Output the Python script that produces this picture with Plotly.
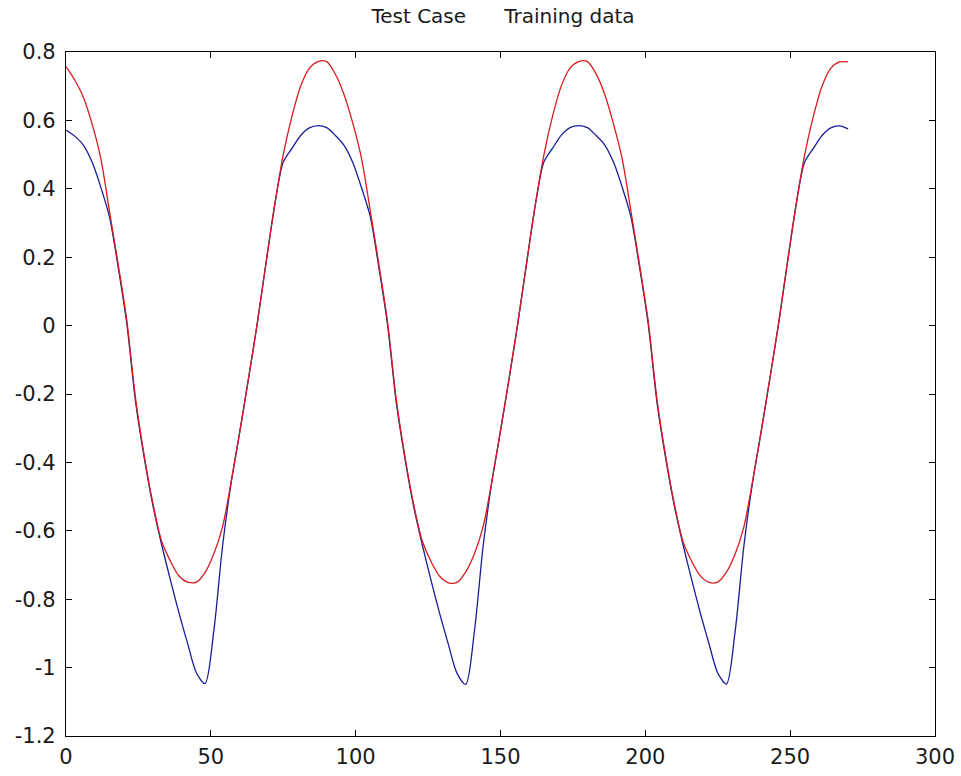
import plotly.graph_objects as go

# x positions (sample index)
x_vals = list(range(0, 271, 3))

# Blue series
blue_vals = [
    0.572, 0.554, 0.528, 0.478, 0.405, 0.318, 0.172, 0.005, -0.222, -0.386,
    -0.526, -0.640, -0.742, -0.840, -0.930, -1.015, -1.047, -0.895, -0.648, -0.460,
    -0.310, -0.155, 0.005, 0.180, 0.350, 0.478, 0.518, 0.556, 0.578, 0.585,
    0.579, 0.556, 0.527, 0.477, 0.404, 0.320, 0.170, 0.003, -0.224, -0.388,
    -0.528, -0.641, -0.744, -0.842, -0.932, -1.017, -1.049, -0.893, -0.645, -0.458,
    -0.308, -0.153, 0.008, 0.182, 0.352, 0.479, 0.519, 0.557, 0.579, 0.585,
    0.579, 0.556, 0.528, 0.478, 0.405, 0.319, 0.171, 0.004, -0.223, -0.387,
    -0.527, -0.640, -0.743, -0.841, -0.931, -1.016, -1.048, -0.894, -0.646, -0.459,
    -0.309, -0.154, 0.006, 0.181, 0.351, 0.478, 0.518, 0.556, 0.578, 0.584,
    0.575,
]

# Red series
red_vals = [
    0.757, 0.718, 0.668, 0.590, 0.490, 0.335, 0.180, 0.015, -0.212, -0.380,
    -0.520, -0.630, -0.688, -0.732, -0.750, -0.750, -0.722, -0.668, -0.590, -0.458,
    -0.310, -0.155, 0.005, 0.180, 0.350, 0.500, 0.612, 0.700, 0.752, 0.772,
    0.772, 0.735, 0.675, 0.592, 0.490, 0.338, 0.180, 0.012, -0.215, -0.382,
    -0.522, -0.630, -0.690, -0.733, -0.752, -0.751, -0.720, -0.667, -0.588, -0.456,
    -0.308, -0.153, 0.008, 0.182, 0.352, 0.500, 0.613, 0.701, 0.753, 0.772,
    0.772, 0.736, 0.676, 0.590, 0.488, 0.336, 0.178, 0.012, -0.214, -0.381,
    -0.521, -0.631, -0.689, -0.732, -0.751, -0.750, -0.721, -0.668, -0.589, -0.457,
    -0.309, -0.154, 0.006, 0.181, 0.351, 0.499, 0.612, 0.700, 0.752, 0.771,
    0.771,
]

x_tickvals = [0, 50, 100, 150, 200, 250, 300]
x_ticktext = ["0", "50", "100", "150", "200", "250", "300"]
y_tickvals = [-1.2, -1.0, -0.8, -0.6, -0.4, -0.2, 0.0, 0.2, 0.4, 0.6, 0.8]
y_ticktext = ["-1.2", "-1", "-0.8", "-0.6", "-0.4", "-0.2", "0", "0.2", "0.4", "0.6", "0.8"]

title_text = "Test Case" + "\u00a0" * 6 + "Training data"

fig = go.Figure()
fig.add_trace(go.Scatter(x=x_vals, y=blue_vals, mode="lines",
                         line=dict(color="#1c1c9a", width=1.3, shape="spline", smoothing=0.8),
                         showlegend=False))
fig.add_trace(go.Scatter(x=x_vals, y=red_vals, mode="lines",
                         line=dict(color="#d81c1c", width=1.3, shape="spline", smoothing=0.8),
                         showlegend=False))

axis_font = dict(family="DejaVu Sans", size=21, color="#1a1a1a")

fig.update_layout(
    width=961, height=776,
    margin=dict(l=66, r=26, t=52, b=40, autoexpand=False),
    paper_bgcolor="white", plot_bgcolor="white",
    title=dict(text=title_text, x=0.5234, xanchor="center", y=0.988, yanchor="top",
               yref="container", automargin=False,
               font=dict(family="DejaVu Sans", size=20, color="#1a1a1a")),
    xaxis=dict(range=[0, 300], tickvals=x_tickvals, ticktext=x_ticktext,
               showgrid=False, zeroline=False, showline=True, linecolor="black",
               linewidth=1.2, mirror="ticks", ticks="inside", ticklen=6,
               tickcolor="black", tickwidth=1, tickfont=axis_font,
               ticklabelstandoff=2, automargin=False),
    yaxis=dict(range=[-1.2, 0.8], tickvals=y_tickvals, ticktext=y_ticktext,
               showgrid=False, zeroline=False, showline=True, linecolor="black",
               linewidth=1.2, mirror="ticks", ticks="inside", ticklen=6,
               tickcolor="black", tickwidth=1, tickfont=axis_font,
               ticklabelstandoff=5, automargin=False),
)

fig.write_html("out.html")
